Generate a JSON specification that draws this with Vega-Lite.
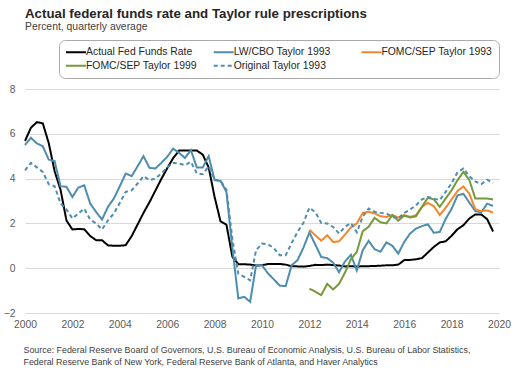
{
"$schema": "https://vega.github.io/schema/vega-lite/v6.json",
"width": 474, "height": 224,
"autosize": {"type": "none"},
"padding": {"left": 25, "top": 89, "right": 21, "bottom": 60},
"background": "white",
"title": {"text": "Actual federal funds rate and Taylor rule prescriptions", "subtitle": "Percent, quarterly average", "anchor": "start", "frame": "group", "font": "Liberation Sans", "fontSize": 13.3, "fontWeight": "bold", "color": "#262626", "subtitleFont": "Liberation Sans", "subtitleFontSize": 10.4, "subtitleColor": "#404040", "subtitlePadding": 2, "offset": 7},
"data": {"values": [
{"t":2000,"s":"Actual Fed Funds Rate","v":5.68},{"t":2000.25,"s":"Actual Fed Funds Rate","v":6.27},{"t":2000.5,"s":"Actual Fed Funds Rate","v":6.52},{"t":2000.75,"s":"Actual Fed Funds Rate","v":6.47},
{"t":2001,"s":"Actual Fed Funds Rate","v":5.59},{"t":2001.25,"s":"Actual Fed Funds Rate","v":4.33},{"t":2001.5,"s":"Actual Fed Funds Rate","v":3.5},{"t":2001.75,"s":"Actual Fed Funds Rate","v":2.13},
{"t":2002,"s":"Actual Fed Funds Rate","v":1.73},{"t":2002.25,"s":"Actual Fed Funds Rate","v":1.75},{"t":2002.5,"s":"Actual Fed Funds Rate","v":1.74},{"t":2002.75,"s":"Actual Fed Funds Rate","v":1.44},
{"t":2003,"s":"Actual Fed Funds Rate","v":1.25},{"t":2003.25,"s":"Actual Fed Funds Rate","v":1.25},{"t":2003.5,"s":"Actual Fed Funds Rate","v":1.02},{"t":2003.75,"s":"Actual Fed Funds Rate","v":1.0},
{"t":2004,"s":"Actual Fed Funds Rate","v":1.0},{"t":2004.25,"s":"Actual Fed Funds Rate","v":1.03},{"t":2004.5,"s":"Actual Fed Funds Rate","v":1.43},{"t":2004.75,"s":"Actual Fed Funds Rate","v":1.95},
{"t":2005,"s":"Actual Fed Funds Rate","v":2.47},{"t":2005.25,"s":"Actual Fed Funds Rate","v":2.94},{"t":2005.5,"s":"Actual Fed Funds Rate","v":3.46},{"t":2005.75,"s":"Actual Fed Funds Rate","v":3.98},
{"t":2006,"s":"Actual Fed Funds Rate","v":4.46},{"t":2006.25,"s":"Actual Fed Funds Rate","v":4.91},{"t":2006.5,"s":"Actual Fed Funds Rate","v":5.25},{"t":2006.75,"s":"Actual Fed Funds Rate","v":5.25},
{"t":2007,"s":"Actual Fed Funds Rate","v":5.26},{"t":2007.25,"s":"Actual Fed Funds Rate","v":5.25},{"t":2007.5,"s":"Actual Fed Funds Rate","v":5.07},{"t":2007.75,"s":"Actual Fed Funds Rate","v":4.5},
{"t":2008,"s":"Actual Fed Funds Rate","v":3.18},{"t":2008.25,"s":"Actual Fed Funds Rate","v":2.09},{"t":2008.5,"s":"Actual Fed Funds Rate","v":1.94},{"t":2008.75,"s":"Actual Fed Funds Rate","v":0.51},
{"t":2009,"s":"Actual Fed Funds Rate","v":0.18},{"t":2009.25,"s":"Actual Fed Funds Rate","v":0.18},{"t":2009.5,"s":"Actual Fed Funds Rate","v":0.16},{"t":2009.75,"s":"Actual Fed Funds Rate","v":0.12},
{"t":2010,"s":"Actual Fed Funds Rate","v":0.13},{"t":2010.25,"s":"Actual Fed Funds Rate","v":0.19},{"t":2010.5,"s":"Actual Fed Funds Rate","v":0.19},{"t":2010.75,"s":"Actual Fed Funds Rate","v":0.19},
{"t":2011,"s":"Actual Fed Funds Rate","v":0.16},{"t":2011.25,"s":"Actual Fed Funds Rate","v":0.09},{"t":2011.5,"s":"Actual Fed Funds Rate","v":0.08},{"t":2011.75,"s":"Actual Fed Funds Rate","v":0.07},
{"t":2012,"s":"Actual Fed Funds Rate","v":0.1},{"t":2012.25,"s":"Actual Fed Funds Rate","v":0.15},{"t":2012.5,"s":"Actual Fed Funds Rate","v":0.14},{"t":2012.75,"s":"Actual Fed Funds Rate","v":0.16},
{"t":2013,"s":"Actual Fed Funds Rate","v":0.14},{"t":2013.25,"s":"Actual Fed Funds Rate","v":0.12},{"t":2013.5,"s":"Actual Fed Funds Rate","v":0.08},{"t":2013.75,"s":"Actual Fed Funds Rate","v":0.09},
{"t":2014,"s":"Actual Fed Funds Rate","v":0.07},{"t":2014.25,"s":"Actual Fed Funds Rate","v":0.09},{"t":2014.5,"s":"Actual Fed Funds Rate","v":0.09},{"t":2014.75,"s":"Actual Fed Funds Rate","v":0.1},
{"t":2015,"s":"Actual Fed Funds Rate","v":0.11},{"t":2015.25,"s":"Actual Fed Funds Rate","v":0.13},{"t":2015.5,"s":"Actual Fed Funds Rate","v":0.13},{"t":2015.75,"s":"Actual Fed Funds Rate","v":0.16},
{"t":2016,"s":"Actual Fed Funds Rate","v":0.36},{"t":2016.25,"s":"Actual Fed Funds Rate","v":0.37},{"t":2016.5,"s":"Actual Fed Funds Rate","v":0.4},{"t":2016.75,"s":"Actual Fed Funds Rate","v":0.45},
{"t":2017,"s":"Actual Fed Funds Rate","v":0.7},{"t":2017.25,"s":"Actual Fed Funds Rate","v":0.95},{"t":2017.5,"s":"Actual Fed Funds Rate","v":1.15},{"t":2017.75,"s":"Actual Fed Funds Rate","v":1.2},
{"t":2018,"s":"Actual Fed Funds Rate","v":1.45},{"t":2018.25,"s":"Actual Fed Funds Rate","v":1.74},{"t":2018.5,"s":"Actual Fed Funds Rate","v":1.92},{"t":2018.75,"s":"Actual Fed Funds Rate","v":2.22},
{"t":2019,"s":"Actual Fed Funds Rate","v":2.4},{"t":2019.25,"s":"Actual Fed Funds Rate","v":2.4},{"t":2019.5,"s":"Actual Fed Funds Rate","v":2.19},{"t":2019.75,"s":"Actual Fed Funds Rate","v":1.64},

{"t":2000,"s":"LW/CBO Taylor 1993","v":5.5},{"t":2000.25,"s":"LW/CBO Taylor 1993","v":5.82},{"t":2000.5,"s":"LW/CBO Taylor 1993","v":5.57},{"t":2000.75,"s":"LW/CBO Taylor 1993","v":5.45},
{"t":2001,"s":"LW/CBO Taylor 1993","v":4.85},{"t":2001.25,"s":"LW/CBO Taylor 1993","v":4.78},{"t":2001.5,"s":"LW/CBO Taylor 1993","v":3.66},{"t":2001.75,"s":"LW/CBO Taylor 1993","v":3.63},
{"t":2002,"s":"LW/CBO Taylor 1993","v":3.18},{"t":2002.25,"s":"LW/CBO Taylor 1993","v":3.6},{"t":2002.5,"s":"LW/CBO Taylor 1993","v":3.7},{"t":2002.75,"s":"LW/CBO Taylor 1993","v":2.89},
{"t":2003,"s":"LW/CBO Taylor 1993","v":2.51},{"t":2003.25,"s":"LW/CBO Taylor 1993","v":2.17},{"t":2003.5,"s":"LW/CBO Taylor 1993","v":2.74},{"t":2003.75,"s":"LW/CBO Taylor 1993","v":3.11},
{"t":2004,"s":"LW/CBO Taylor 1993","v":3.66},{"t":2004.25,"s":"LW/CBO Taylor 1993","v":4.23},{"t":2004.5,"s":"LW/CBO Taylor 1993","v":4.11},{"t":2004.75,"s":"LW/CBO Taylor 1993","v":4.55},
{"t":2005,"s":"LW/CBO Taylor 1993","v":5.0},{"t":2005.25,"s":"LW/CBO Taylor 1993","v":4.48},{"t":2005.5,"s":"LW/CBO Taylor 1993","v":4.45},{"t":2005.75,"s":"LW/CBO Taylor 1993","v":4.7},
{"t":2006,"s":"LW/CBO Taylor 1993","v":4.97},{"t":2006.25,"s":"LW/CBO Taylor 1993","v":5.34},{"t":2006.5,"s":"LW/CBO Taylor 1993","v":5.15},{"t":2006.75,"s":"LW/CBO Taylor 1993","v":4.92},
{"t":2007,"s":"LW/CBO Taylor 1993","v":5.27},{"t":2007.25,"s":"LW/CBO Taylor 1993","v":4.5},{"t":2007.5,"s":"LW/CBO Taylor 1993","v":4.5},{"t":2007.75,"s":"LW/CBO Taylor 1993","v":5.0},
{"t":2008,"s":"LW/CBO Taylor 1993","v":3.93},{"t":2008.25,"s":"LW/CBO Taylor 1993","v":3.9},{"t":2008.5,"s":"LW/CBO Taylor 1993","v":3.4},{"t":2008.75,"s":"LW/CBO Taylor 1993","v":0.9},
{"t":2009,"s":"LW/CBO Taylor 1993","v":-1.35},{"t":2009.25,"s":"LW/CBO Taylor 1993","v":-1.28},{"t":2009.5,"s":"LW/CBO Taylor 1993","v":-1.5},{"t":2009.75,"s":"LW/CBO Taylor 1993","v":0.13},
{"t":2010,"s":"LW/CBO Taylor 1993","v":0.13},{"t":2010.25,"s":"LW/CBO Taylor 1993","v":-0.23},{"t":2010.5,"s":"LW/CBO Taylor 1993","v":-0.5},{"t":2010.75,"s":"LW/CBO Taylor 1993","v":-0.78},
{"t":2011,"s":"LW/CBO Taylor 1993","v":-0.8},{"t":2011.25,"s":"LW/CBO Taylor 1993","v":0.13},{"t":2011.5,"s":"LW/CBO Taylor 1993","v":0.36},{"t":2011.75,"s":"LW/CBO Taylor 1993","v":0.92},
{"t":2012,"s":"LW/CBO Taylor 1993","v":1.6},{"t":2012.25,"s":"LW/CBO Taylor 1993","v":1.05},{"t":2012.5,"s":"LW/CBO Taylor 1993","v":0.5},{"t":2012.75,"s":"LW/CBO Taylor 1993","v":0.45},
{"t":2013,"s":"LW/CBO Taylor 1993","v":0.25},{"t":2013.25,"s":"LW/CBO Taylor 1993","v":-0.18},{"t":2013.5,"s":"LW/CBO Taylor 1993","v":0.3},{"t":2013.75,"s":"LW/CBO Taylor 1993","v":0.6},
{"t":2014,"s":"LW/CBO Taylor 1993","v":-0.1},{"t":2014.25,"s":"LW/CBO Taylor 1993","v":0.8},{"t":2014.5,"s":"LW/CBO Taylor 1993","v":1.22},{"t":2014.75,"s":"LW/CBO Taylor 1993","v":0.85},
{"t":2015,"s":"LW/CBO Taylor 1993","v":0.73},{"t":2015.25,"s":"LW/CBO Taylor 1993","v":1.15},{"t":2015.5,"s":"LW/CBO Taylor 1993","v":1.0},{"t":2015.75,"s":"LW/CBO Taylor 1993","v":0.65},
{"t":2016,"s":"LW/CBO Taylor 1993","v":1.17},{"t":2016.25,"s":"LW/CBO Taylor 1993","v":1.55},{"t":2016.5,"s":"LW/CBO Taylor 1993","v":1.77},{"t":2016.75,"s":"LW/CBO Taylor 1993","v":1.88},
{"t":2017,"s":"LW/CBO Taylor 1993","v":1.96},{"t":2017.25,"s":"LW/CBO Taylor 1993","v":1.58},{"t":2017.5,"s":"LW/CBO Taylor 1993","v":1.62},{"t":2017.75,"s":"LW/CBO Taylor 1993","v":2.2},
{"t":2018,"s":"LW/CBO Taylor 1993","v":2.65},{"t":2018.25,"s":"LW/CBO Taylor 1993","v":3.25},{"t":2018.5,"s":"LW/CBO Taylor 1993","v":3.32},{"t":2018.75,"s":"LW/CBO Taylor 1993","v":2.93},
{"t":2019,"s":"LW/CBO Taylor 1993","v":2.55},{"t":2019.25,"s":"LW/CBO Taylor 1993","v":2.5},{"t":2019.5,"s":"LW/CBO Taylor 1993","v":2.88},{"t":2019.75,"s":"LW/CBO Taylor 1993","v":2.78},

{"t":2012,"s":"FOMC/SEP Taylor 1993","v":1.72},{"t":2012.25,"s":"FOMC/SEP Taylor 1993","v":1.47},{"t":2012.5,"s":"FOMC/SEP Taylor 1993","v":1.23},{"t":2012.75,"s":"FOMC/SEP Taylor 1993","v":1.47},
{"t":2013,"s":"FOMC/SEP Taylor 1993","v":1.17},{"t":2013.25,"s":"FOMC/SEP Taylor 1993","v":1.2},{"t":2013.5,"s":"FOMC/SEP Taylor 1993","v":1.5},{"t":2013.75,"s":"FOMC/SEP Taylor 1993","v":1.82},
{"t":2014,"s":"FOMC/SEP Taylor 1993","v":2.0},{"t":2014.25,"s":"FOMC/SEP Taylor 1993","v":2.47},{"t":2014.5,"s":"FOMC/SEP Taylor 1993","v":2.51},{"t":2014.75,"s":"FOMC/SEP Taylor 1993","v":2.45},
{"t":2015,"s":"FOMC/SEP Taylor 1993","v":2.32},{"t":2015.25,"s":"FOMC/SEP Taylor 1993","v":2.29},{"t":2015.5,"s":"FOMC/SEP Taylor 1993","v":2.37},{"t":2015.75,"s":"FOMC/SEP Taylor 1993","v":2.26},
{"t":2016,"s":"FOMC/SEP Taylor 1993","v":2.37},{"t":2016.25,"s":"FOMC/SEP Taylor 1993","v":2.29},{"t":2016.5,"s":"FOMC/SEP Taylor 1993","v":2.37},{"t":2016.75,"s":"FOMC/SEP Taylor 1993","v":2.74},
{"t":2017,"s":"FOMC/SEP Taylor 1993","v":2.92},{"t":2017.25,"s":"FOMC/SEP Taylor 1993","v":2.77},{"t":2017.5,"s":"FOMC/SEP Taylor 1993","v":2.37},{"t":2017.75,"s":"FOMC/SEP Taylor 1993","v":2.7},
{"t":2018,"s":"FOMC/SEP Taylor 1993","v":3.07},{"t":2018.25,"s":"FOMC/SEP Taylor 1993","v":3.45},{"t":2018.5,"s":"FOMC/SEP Taylor 1993","v":3.65},{"t":2018.75,"s":"FOMC/SEP Taylor 1993","v":3.32},
{"t":2019,"s":"FOMC/SEP Taylor 1993","v":2.63},{"t":2019.25,"s":"FOMC/SEP Taylor 1993","v":2.55},{"t":2019.5,"s":"FOMC/SEP Taylor 1993","v":2.58},{"t":2019.75,"s":"FOMC/SEP Taylor 1993","v":2.48},

{"t":2012,"s":"FOMC/SEP Taylor 1999","v":-0.91},{"t":2012.25,"s":"FOMC/SEP Taylor 1999","v":-1.05},{"t":2012.5,"s":"FOMC/SEP Taylor 1999","v":-1.2},{"t":2012.75,"s":"FOMC/SEP Taylor 1999","v":-0.7},
{"t":2013,"s":"FOMC/SEP Taylor 1999","v":-0.95},{"t":2013.25,"s":"FOMC/SEP Taylor 1999","v":-0.7},{"t":2013.5,"s":"FOMC/SEP Taylor 1999","v":-0.2},{"t":2013.75,"s":"FOMC/SEP Taylor 1999","v":0.4},
{"t":2014,"s":"FOMC/SEP Taylor 1999","v":0.73},{"t":2014.25,"s":"FOMC/SEP Taylor 1999","v":1.65},{"t":2014.5,"s":"FOMC/SEP Taylor 1999","v":1.85},{"t":2014.75,"s":"FOMC/SEP Taylor 1999","v":2.25},
{"t":2015,"s":"FOMC/SEP Taylor 1999","v":2.05},{"t":2015.25,"s":"FOMC/SEP Taylor 1999","v":2.0},{"t":2015.5,"s":"FOMC/SEP Taylor 1999","v":2.37},{"t":2015.75,"s":"FOMC/SEP Taylor 1999","v":2.12},
{"t":2016,"s":"FOMC/SEP Taylor 1999","v":2.35},{"t":2016.25,"s":"FOMC/SEP Taylor 1999","v":2.26},{"t":2016.5,"s":"FOMC/SEP Taylor 1999","v":2.32},{"t":2016.75,"s":"FOMC/SEP Taylor 1999","v":2.74},
{"t":2017,"s":"FOMC/SEP Taylor 1999","v":3.15},{"t":2017.25,"s":"FOMC/SEP Taylor 1999","v":3.07},{"t":2017.5,"s":"FOMC/SEP Taylor 1999","v":2.74},{"t":2017.75,"s":"FOMC/SEP Taylor 1999","v":3.11},
{"t":2018,"s":"FOMC/SEP Taylor 1999","v":3.48},{"t":2018.25,"s":"FOMC/SEP Taylor 1999","v":3.93},{"t":2018.5,"s":"FOMC/SEP Taylor 1999","v":4.3},{"t":2018.75,"s":"FOMC/SEP Taylor 1999","v":3.93},
{"t":2019,"s":"FOMC/SEP Taylor 1999","v":3.11},{"t":2019.25,"s":"FOMC/SEP Taylor 1999","v":3.11},{"t":2019.5,"s":"FOMC/SEP Taylor 1999","v":3.11},{"t":2019.75,"s":"FOMC/SEP Taylor 1999","v":3.07},

{"t":2000,"s":"Original Taylor 1993","v":4.37},{"t":2000.25,"s":"Original Taylor 1993","v":4.7},{"t":2000.5,"s":"Original Taylor 1993","v":4.5},{"t":2000.75,"s":"Original Taylor 1993","v":4.3},
{"t":2001,"s":"Original Taylor 1993","v":3.75},{"t":2001.25,"s":"Original Taylor 1993","v":3.66},{"t":2001.5,"s":"Original Taylor 1993","v":2.89},{"t":2001.75,"s":"Original Taylor 1993","v":2.62},
{"t":2002,"s":"Original Taylor 1993","v":2.22},{"t":2002.25,"s":"Original Taylor 1993","v":2.44},{"t":2002.5,"s":"Original Taylor 1993","v":2.66},{"t":2002.75,"s":"Original Taylor 1993","v":2.17},
{"t":2003,"s":"Original Taylor 1993","v":2.0},{"t":2003.25,"s":"Original Taylor 1993","v":1.73},{"t":2003.5,"s":"Original Taylor 1993","v":2.14},{"t":2003.75,"s":"Original Taylor 1993","v":2.44},
{"t":2004,"s":"Original Taylor 1993","v":2.92},{"t":2004.25,"s":"Original Taylor 1993","v":3.41},{"t":2004.5,"s":"Original Taylor 1993","v":3.48},{"t":2004.75,"s":"Original Taylor 1993","v":3.78},
{"t":2005,"s":"Original Taylor 1993","v":4.11},{"t":2005.25,"s":"Original Taylor 1993","v":3.93},{"t":2005.5,"s":"Original Taylor 1993","v":4.0},{"t":2005.75,"s":"Original Taylor 1993","v":4.23},
{"t":2006,"s":"Original Taylor 1993","v":4.5},{"t":2006.25,"s":"Original Taylor 1993","v":4.7},{"t":2006.5,"s":"Original Taylor 1993","v":4.67},{"t":2006.75,"s":"Original Taylor 1993","v":4.6},
{"t":2007,"s":"Original Taylor 1993","v":4.75},{"t":2007.25,"s":"Original Taylor 1993","v":4.23},{"t":2007.5,"s":"Original Taylor 1993","v":4.2},{"t":2007.75,"s":"Original Taylor 1993","v":4.55},
{"t":2008,"s":"Original Taylor 1993","v":3.95},{"t":2008.25,"s":"Original Taylor 1993","v":3.9},{"t":2008.5,"s":"Original Taylor 1993","v":3.5},{"t":2008.75,"s":"Original Taylor 1993","v":1.3},
{"t":2009,"s":"Original Taylor 1993","v":-0.24},{"t":2009.25,"s":"Original Taylor 1993","v":-0.39},{"t":2009.5,"s":"Original Taylor 1993","v":-0.54},{"t":2009.75,"s":"Original Taylor 1993","v":0.8},
{"t":2010,"s":"Original Taylor 1993","v":1.1},{"t":2010.25,"s":"Original Taylor 1993","v":1.07},{"t":2010.5,"s":"Original Taylor 1993","v":0.9},{"t":2010.75,"s":"Original Taylor 1993","v":0.58},
{"t":2011,"s":"Original Taylor 1993","v":0.58},{"t":2011.25,"s":"Original Taylor 1993","v":1.12},{"t":2011.5,"s":"Original Taylor 1993","v":1.62},{"t":2011.75,"s":"Original Taylor 1993","v":2.03},
{"t":2012,"s":"Original Taylor 1993","v":2.7},{"t":2012.25,"s":"Original Taylor 1993","v":2.5},{"t":2012.5,"s":"Original Taylor 1993","v":2.02},{"t":2012.75,"s":"Original Taylor 1993","v":2.0},
{"t":2013,"s":"Original Taylor 1993","v":1.84},{"t":2013.25,"s":"Original Taylor 1993","v":1.55},{"t":2013.5,"s":"Original Taylor 1993","v":1.84},{"t":2013.75,"s":"Original Taylor 1993","v":2.02},
{"t":2014,"s":"Original Taylor 1993","v":1.6},{"t":2014.25,"s":"Original Taylor 1993","v":2.3},{"t":2014.5,"s":"Original Taylor 1993","v":2.66},{"t":2014.75,"s":"Original Taylor 1993","v":2.52},
{"t":2015,"s":"Original Taylor 1993","v":2.47},{"t":2015.25,"s":"Original Taylor 1993","v":2.44},{"t":2015.5,"s":"Original Taylor 1993","v":2.29},{"t":2015.75,"s":"Original Taylor 1993","v":2.22},
{"t":2016,"s":"Original Taylor 1993","v":2.47},{"t":2016.25,"s":"Original Taylor 1993","v":2.62},{"t":2016.5,"s":"Original Taylor 1993","v":2.81},{"t":2016.75,"s":"Original Taylor 1993","v":3.07},
{"t":2017,"s":"Original Taylor 1993","v":3.18},{"t":2017.25,"s":"Original Taylor 1993","v":3.11},{"t":2017.5,"s":"Original Taylor 1993","v":3.04},{"t":2017.75,"s":"Original Taylor 1993","v":3.41},
{"t":2018,"s":"Original Taylor 1993","v":3.8},{"t":2018.25,"s":"Original Taylor 1993","v":4.28},{"t":2018.5,"s":"Original Taylor 1993","v":4.45},{"t":2018.75,"s":"Original Taylor 1993","v":4.1},
{"t":2019,"s":"Original Taylor 1993","v":3.87},{"t":2019.25,"s":"Original Taylor 1993","v":3.75},{"t":2019.5,"s":"Original Taylor 1993","v":3.95},{"t":2019.75,"s":"Original Taylor 1993","v":3.81}
]},
"mark": {"type": "line", "strokeWidth": 2},
"encoding": {
  "x": {"field": "t", "type": "quantitative", "scale": {"domain": [2000, 2020], "nice": false, "zero": false},
    "axis": {"values": [2000,2002,2004,2006,2008,2010,2012,2014,2016,2018,2020], "format": "d", "grid": false, "domain": false, "ticks": false,
      "labelFont": "Liberation Sans", "labelFontSize": 10.3, "labelColor": "#595959", "labelPadding": 6, "labelFlush": false,
      "title": ["Source: Federal Reserve Board of Governors, U.S. Bureau of Economic Analysis, U.S. Bureau of Labor Statistics,", "Federal Reserve Bank of New York, Federal Reserve Bank of Atlanta, and Haver Analytics"],
      "titleFont": "Liberation Sans", "titleFontSize": 8.9, "titleFontWeight": "normal", "titleColor": "#404040", "titleAnchor": "start", "titleAlign": "left", "titleBaseline": "alphabetic", "titleX": -2, "titleY": 39.5, "titleLineHeight": 12}},
  "y": {"field": "v", "type": "quantitative", "scale": {"domain": [-2, 8], "nice": false},
    "axis": {"values": [-2,0,2,4,6,8], "domain": false, "ticks": false, "title": null, "gridColor": "#d9d9d9", "gridWidth": 1,
      "labelFont": "Liberation Sans", "labelFontSize": 10.3, "labelColor": "#595959", "labelPadding": 10}},
  "color": {"field": "s", "type": "nominal", "title": null,
    "scale": {"domain": ["Actual Fed Funds Rate", "LW/CBO Taylor 1993", "FOMC/SEP Taylor 1993", "FOMC/SEP Taylor 1999", "Original Taylor 1993"], "range": ["#000000", "#4E8DAF", "#F5872B", "#76993A", "#4E8DAF"]}},
  "strokeDash": {"field": "s", "type": "nominal", "title": null,
    "scale": {"domain": ["Actual Fed Funds Rate", "LW/CBO Taylor 1993", "FOMC/SEP Taylor 1993", "FOMC/SEP Taylor 1999", "Original Taylor 1993"], "range": [[1,0],[1,0],[1,0],[1,0],[4,3]]}}
},
"config": {
  "view": {"stroke": null},
  "legend": {"orient": "top", "offset": 11, "layout": {"top": {"anchor": "end"}}, "direction": "horizontal", "columns": 3, "gridAlign": "all", "columnPadding": 12.7, "rowPadding": 1.7,
    "padding": 6, "strokeColor": "#aaaaaa", "strokeWidth": 1, "fillColor": "white", "cornerRadius": 6,
    "symbolType": "M-2,0H2", "symbolSize": 100, "symbolOffset": 5, "symbolStrokeWidth": 2, "labelOffset": 4,
    "labelFont": "Liberation Sans", "labelFontSize": 10.4, "labelColor": "#262626", "labelLimit": 0}
}
}
